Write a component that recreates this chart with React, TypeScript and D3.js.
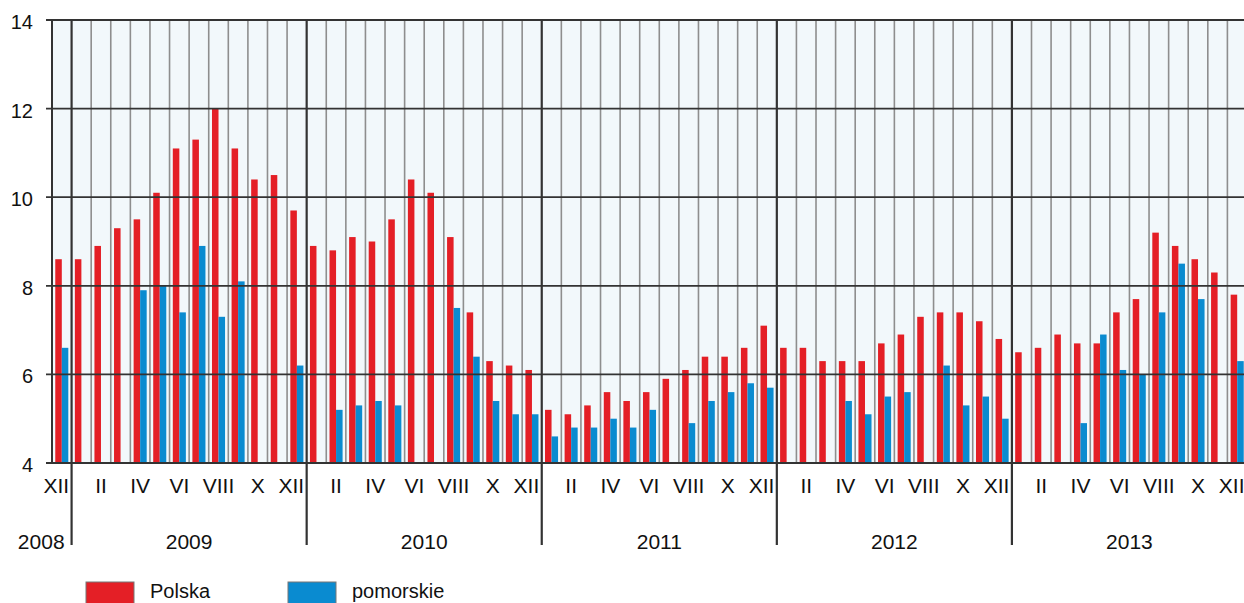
import * as d3 from "d3";

const years = [2008, 2009, 2010, 2011, 2012, 2013];
const romanMonths = ["I", "II", "III", "IV", "V", "VI", "VII", "VIII", "IX", "X", "XI", "XII"];

// Polska - stopa bezrobocia, XII 2008 .. XII 2013
const polska = [
  8.6,
  8.6, 8.9, 9.3, 9.5, 10.1, 11.1, 11.3, 12.0, 11.1, 10.4, 10.5, 9.7,
  8.9, 8.8, 9.1, 9.0, 9.5, 10.4, 10.1, 9.1, 7.4, 6.3, 6.2, 6.1,
  5.2, 5.1, 5.3, 5.6, 5.4, 5.6, 5.9, 6.1, 6.4, 6.4, 6.6, 7.1,
  6.6, 6.6, 6.3, 6.3, 6.3, 6.7, 6.9, 7.3, 7.4, 7.4, 7.2, 6.8,
  6.5, 6.6, 6.9, 6.7, 6.7, 7.4, 7.7, 9.2, 8.9, 8.6, 8.3, 7.8,
];

const pomorskie: (number | null)[] = [
  6.6,
  null, null, null, 7.9, 8.0, 7.4, 8.9, 7.3, 8.1, null, null, 6.2,
  null, 5.2, 5.3, 5.4, 5.3, null, null, 7.5, 6.4, 5.4, 5.1, 5.1,
  4.6, 4.8, 4.8, 5.0, 4.8, 5.2, null, 4.9, 5.4, 5.6, 5.8, 5.7,
  null, null, null, 5.4, 5.1, 5.5, 5.6, null, 6.2, 5.3, 5.5, 5.0,
  null, null, null, 4.9, 6.9, 6.1, 6.0, 7.4, 8.5, 7.7, null, 6.3,
];

const yTicks = [4, 6, 8, 10, 12, 14];
const seriesNames = ["Polska", "pomorskie"];
const colors = ["#e41f26", "#0a8bd0"];

// XII 2008 followed by every month of 2009-2013
const periods = [{ year: 2008, month: 12 }].concat(
  years.slice(1).flatMap((y) => romanMonths.map((_, i) => ({ year: y, month: i + 1 })))
);

export default function App() {
  const width = 1244;
  const height = 603;
  const left = 52;
  const step = 19.59;
  const top = 20;
  const bottom = 463;
  const font = "'Liberation Sans', Arial, sans-serif";

  const x = d3
    .scaleBand<number>()
    .domain(periods.map((_, i) => i))
    .range([left, left + step * periods.length])
    .padding(0);

  const x1 = d3
    .scaleBand<string>()
    .domain(seriesNames)
    .range([0, x.bandwidth()])
    .paddingInner(0)
    .paddingOuter(0.5);

  const y = d3.scaleLinear().domain([4, 14]).range([bottom, top]);

  const yearStarts = periods
    .map((p, i) => (p.month === 1 ? i : -1))
    .filter((i) => i >= 0);

  return (
    <svg
      width={width}
      height={height}
      style={{ position: "absolute", left: 0, top: 0, background: "#fff" }}
      fontFamily={font}
    >
      <rect x={left} y={top} width={width - left} height={bottom - top} fill="#f2f8fb" />

      {/* month separators */}
      {periods.map((p, i) =>
        p.month === 1 ? null : (
          <line
            key={"m" + i}
            x1={x(i)!}
            x2={x(i)!}
            y1={top}
            y2={bottom}
            stroke="#8e8e8e"
            strokeWidth={1.6}
          />
        )
      )}

      {/* bars */}
      {polska.map((v, i) => (
        <rect
          key={"p" + i}
          x={x(i)! + x1("Polska")!}
          y={y(v)}
          width={x1.bandwidth()}
          height={bottom - y(v)}
          fill={colors[0]}
        />
      ))}
      {pomorskie.map((v, i) =>
        v == null ? null : (
          <rect
            key={"b" + i}
            x={x(i)! + x1("pomorskie")!}
            y={y(v)}
            width={x1.bandwidth()}
            height={bottom - y(v)}
            fill={colors[1]}
          />
        )
      )}

      {/* horizontal grid + y labels */}
      {yTicks.map((t) => (
        <g key={"y" + t}>
          <line x1={46} x2={width} y1={y(t)} y2={y(t)} stroke="#333" strokeWidth={1.8} />
          <text x={33} y={y(t) + 2} dy="0.35em" textAnchor="end" fontSize={20} fill="#111">
            {t}
          </text>
        </g>
      ))}

      <line x1={left} x2={left} y1={top - 1} y2={bottom + 1} stroke="#333" strokeWidth={2} />

      {/* year separators */}
      {yearStarts.map((i) => (
        <line
          key={"ys" + i}
          x1={x(i)!}
          x2={x(i)!}
          y1={top - 1}
          y2={545}
          stroke="#333"
          strokeWidth={2.2}
        />
      ))}

      {/* month labels */}
      {periods.map((p, i) =>
        p.month % 2 !== 0 ? null : p.month === 12 ? (
          <text key={"ml" + i} x={x(i)! + step - 2.5} y={493} textAnchor="end" fontSize={21} fill="#111">
            {romanMonths[p.month - 1]}
          </text>
        ) : (
          <text key={"ml" + i} x={x(i)! + step / 2} y={493} textAnchor="middle" fontSize={21} fill="#111">
            {romanMonths[p.month - 1]}
          </text>
        )
      )}

      {/* year labels */}
      {years.map((yr) => {
        const idx = periods.map((p, i) => (p.year === yr ? i : -1)).filter((i) => i >= 0);
        const x0 = x(idx[0])!;
        const x2 = x(idx[idx.length - 1])! + step;
        return yr === 2008 ? (
          <text key={"yl" + yr} x={x2 - 7} y={549} textAnchor="end" fontSize={21} fill="#111">
            {yr}
          </text>
        ) : (
          <text key={"yl" + yr} x={(x0 + x2) / 2} y={549} textAnchor="middle" fontSize={21} fill="#111">
            {yr}
          </text>
        );
      })}

      {/* legend */}
      {seriesNames.map((s, i) => (
        <g key={"lg" + s} transform={`translate(${86 + i * 202},582)`}>
          <rect x={0} y={0} width={48} height={24} fill={colors[i]} stroke="#777" strokeWidth={1} />
          <text x={64} y={16} fontSize={20} fill="#111">
            {s}
          </text>
        </g>
      ))}
    </svg>
  );
}
